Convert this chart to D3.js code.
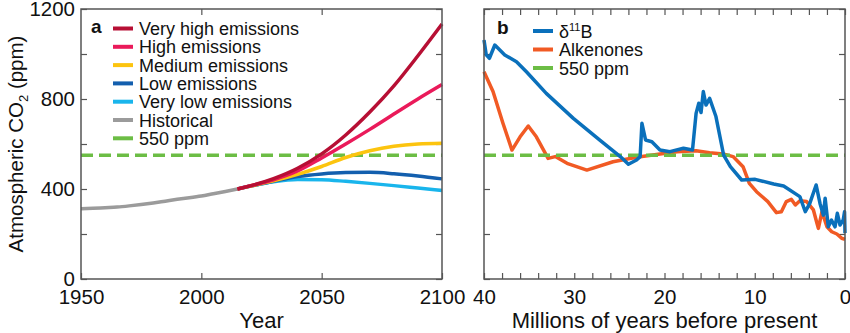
<!DOCTYPE html>
<html>
<head>
<meta charset="utf-8">
<script src="https://cdn.jsdelivr.net/npm/d3@7"></script>
<style>
  body { margin: 0; background: #fff; }
  svg text { font-family: "Liberation Sans", Arial, sans-serif; fill: #111; }
</style>
</head>
<body>
<div id="chart"></div>
<script>
// panel a: CO2 scenarios (ppm)
var histYears = [1950, 1955, 1960, 1965, 1970, 1975, 1980, 1985, 1990, 1995, 2000, 2005, 2010, 2015];
var histVals  = [312, 314, 317, 320, 325, 331, 338, 346, 354, 361, 369, 379, 389, 400];

var scenYears = [2015, 2020, 2030, 2040, 2050, 2060, 2070, 2080, 2090, 2100];
var veryHigh  = [400, 413, 446, 492, 556, 640, 742, 858, 992, 1133];
var high      = [400, 413, 441, 480, 538, 600, 665, 733, 800, 864];
var medium    = [400, 412, 436, 465, 500, 540, 570, 590, 600, 603];
var low       = [400, 412, 434, 455, 467, 473, 474, 468, 458, 445];
var veryLow   = [400, 412, 432, 442, 441, 434, 425, 415, 404, 393];

var scenNames  = ["Very high emissions", "High emissions", "Medium emissions", "Low emissions", "Very low emissions", "Historical", "550 ppm"];
var scenColors = ["#b70f34", "#ea1a5a", "#fcc40f", "#135fae", "#19b5ec", "#9b9b9b", "#6cbd45"];

// panel b: proxy records (Myr before present, ppm)
var boronAge = [40, 39.75, 39.4, 38.8, 37.7, 36.4, 35.3, 33.1, 30.1, 27.2, 24.9, 24.0, 23.1, 22.7, 22.5, 22.1, 21.4, 20.5, 19.4, 17.9, 16.9,
                16.5, 16.2, 15.95, 15.7, 15.4, 15.0, 14.3, 13.45, 12.7, 11.45, 9.95, 7.9, 6.8, 5.0, 4.4, 3.9, 3.2, 2.77, 2.4, 2.2, 1.85,
                1.5, 1.1, 0.85, 0.55, 0.2, 0.05, 0];
var boronCO2 = [1062, 996, 981, 1040, 996, 966, 921, 825, 714, 618, 544, 510, 529, 544, 692, 618, 610, 573, 566, 581, 573,
                736, 781, 740, 833, 773, 803, 722, 551, 499, 440, 443, 422, 413, 366, 299, 336, 418, 336, 284, 359, 232,
                262, 232, 292, 240, 262, 299, 204];

var alkAge = [40, 39.0, 37.9, 36.9, 36.0, 35.1, 34.2, 32.9, 32.1, 30.8, 28.6, 25.7, 23.1, 20.5, 18.6, 16.5, 15.0, 13.5, 12.4, 11.3,
              10.6, 9.8, 8.55, 7.6, 7.05, 6.5, 5.95, 5.5, 5.0, 4.25, 3.5, 3.1, 2.95, 2.55, 2.0, 1.47, 0.9, 0.37, 0];
var alkCO2 = [921, 833, 692, 573, 632, 680, 632, 536, 544, 514, 484, 521, 541, 556, 566, 570, 561, 556, 544, 499,
              425, 388, 344, 295, 299, 344, 354, 329, 348, 344, 307, 247, 225, 299, 232, 210, 200, 181, 176];

var proxyNames  = ["\u03b4", "Alkenones", "550 ppm"];
var proxyColors = ["#0a70bb", "#f15a24", "#6cbd45"];

var yTicks = [0, 200, 400, 600, 800, 1000, 1200];
var yLabels = [0, 400, 800, 1200];
var threshold = 550;

var width = 850, height = 333;
var svg = d3.select("#chart").append("svg")
  .attr("width", width)
  .attr("height", height);

var plotTop = 9, plotBottom = 279;
var y = d3.scaleLinear().domain([0, 1200]).range([plotBottom, plotTop]);
var xa = d3.scaleLinear().domain([1950, 2100]).range([81, 442]);
var xb = d3.scaleLinear().domain([40, 0]).range([484, 845]);

var axisColor = "#555";

function styleAxis(g) {
  g.select(".domain").remove();
  g.selectAll(".tick line").attr("stroke", axisColor).attr("stroke-width", 1.2);
  g.selectAll(".tick text").attr("font-size", 20.5).attr("fill", "#111")
    .attr("font-family", "'Liberation Sans', Arial, sans-serif");
}

function frame(x0, x1) {
  svg.append("rect")
    .attr("x", x0).attr("y", plotTop)
    .attr("width", x1 - x0).attr("height", plotBottom - plotTop)
    .attr("fill", "none").attr("stroke", axisColor).attr("stroke-width", 1.5);
}

// ---- panel a ----
svg.append("g").attr("transform", "translate(81,0)")
  .call(d3.axisLeft(y).tickValues(yTicks).tickSizeInner(-6).tickSizeOuter(0).tickPadding(6)
    .tickFormat(function(d) { return yLabels.indexOf(d) >= 0 ? d : ""; }))
  .call(styleAxis);
svg.append("g").attr("transform", "translate(442,0)")
  .call(d3.axisRight(y).tickValues(yTicks).tickSizeInner(-6).tickSizeOuter(0).tickFormat(""))
  .call(styleAxis);
svg.append("g").attr("transform", "translate(0," + plotBottom + ")")
  .call(d3.axisBottom(xa).tickValues([1950, 2000, 2050, 2100]).tickSizeInner(-6).tickSizeOuter(0).tickPadding(10)
    .tickFormat(d3.format("d")))
  .call(styleAxis);
svg.append("g").attr("transform", "translate(0," + plotTop + ")")
  .call(d3.axisTop(xa).tickValues([2000, 2050]).tickSizeInner(-6).tickSizeOuter(0).tickFormat(""))
  .call(styleAxis);

var lineA = d3.line().curve(d3.curveMonotoneX)
  .x(function(d) { return xa(d[0]); })
  .y(function(d) { return y(d[1]); });

var gA = svg.append("g");
gA.append("line")
  .attr("x1", xa(1950)).attr("x2", xa(2100))
  .attr("y1", y(threshold)).attr("y2", y(threshold))
  .attr("stroke", scenColors[6]).attr("stroke-width", 3.5).attr("stroke-dasharray", "12,6");

gA.append("path")
  .attr("d", lineA(d3.zip(histYears, histVals)))
  .attr("fill", "none").attr("stroke", scenColors[5]).attr("stroke-width", 3.5);

var scenSeries = [veryLow, low, medium, high, veryHigh];
var scenColorOrder = [scenColors[4], scenColors[3], scenColors[2], scenColors[1], scenColors[0]];
scenSeries.forEach(function(s, i) {
  gA.append("path")
    .attr("d", lineA(d3.zip(scenYears, s)))
    .attr("fill", "none").attr("stroke", scenColorOrder[i]).attr("stroke-width", 3.5);
});

frame(81, 442);

svg.append("text").attr("x", 91).attr("y", 33)
  .attr("font-size", 19).attr("font-weight", "bold").text("a");

var legA = svg.append("g").attr("transform", "translate(113,28.5)");
scenNames.forEach(function(n, i) {
  var row = legA.append("g").attr("transform", "translate(0," + (i * 18.3) + ")");
  row.append("line").attr("x1", 0).attr("x2", 20).attr("y1", 0).attr("y2", 0)
    .attr("stroke", scenColors[i]).attr("stroke-width", 4);
  row.append("text").attr("x", 26).attr("y", 6.5).attr("font-size", 18).text(n);
});

// axis titles a
var yt = svg.append("text")
  .attr("transform", "translate(23,144) rotate(-90)")
  .attr("text-anchor", "middle")
  .attr("font-size", 20.5);
yt.append("tspan").text("Atmospheric CO");
yt.append("tspan").attr("font-size", 13).attr("dy", 5).text("2");
yt.append("tspan").attr("dy", -5).text(" (ppm)");

svg.append("text").attr("x", xa(2025)).attr("y", 328)
  .attr("text-anchor", "middle").attr("font-size", 22).text("Year");

// ---- panel b ----
svg.append("g").attr("transform", "translate(484,0)")
  .call(d3.axisLeft(y).tickValues(yTicks).tickSizeInner(-6).tickSizeOuter(0).tickFormat(""))
  .call(styleAxis);
svg.append("g").attr("transform", "translate(845,0)")
  .call(d3.axisRight(y).tickValues(yTicks).tickSizeInner(-6).tickSizeOuter(0).tickFormat(""))
  .call(styleAxis);

var bTicks = d3.range(0, 41, 2);
svg.append("g").attr("transform", "translate(0," + plotBottom + ")")
  .call(d3.axisBottom(xb).tickValues(bTicks).tickSizeInner(-6).tickSizeOuter(0).tickPadding(10)
    .tickFormat(function(d) { return d % 10 === 0 ? d : ""; }))
  .call(styleAxis);
svg.append("g").attr("transform", "translate(0," + plotTop + ")")
  .call(d3.axisTop(xb).tickValues(bTicks).tickSizeInner(-6).tickSizeOuter(0).tickFormat(""))
  .call(styleAxis);

var lineB = d3.line()
  .x(function(d) { return xb(d[0]); })
  .y(function(d) { return y(d[1]); });

var gB = svg.append("g");
gB.append("path")
  .attr("d", lineB(d3.zip(alkAge, alkCO2)))
  .attr("fill", "none").attr("stroke", proxyColors[1]).attr("stroke-width", 3.5)
  .attr("stroke-linejoin", "round");
gB.append("line")
  .attr("x1", xb(40)).attr("x2", xb(0))
  .attr("y1", y(threshold)).attr("y2", y(threshold))
  .attr("stroke", proxyColors[2]).attr("stroke-width", 3.5).attr("stroke-dasharray", "12,6");
gB.append("path")
  .attr("d", lineB(d3.zip(boronAge, boronCO2)))
  .attr("fill", "none").attr("stroke", proxyColors[0]).attr("stroke-width", 3.5)
  .attr("stroke-linejoin", "round");

frame(484, 845);

svg.append("text").attr("x", 497).attr("y", 34)
  .attr("font-size", 19).attr("font-weight", "bold").text("b");

var legB = svg.append("g").attr("transform", "translate(533,31)");
proxyNames.forEach(function(n, i) {
  var row = legB.append("g").attr("transform", "translate(0," + (i * 18.5) + ")");
  row.append("line").attr("x1", 0).attr("x2", 20).attr("y1", 0).attr("y2", 0)
    .attr("stroke", proxyColors[i]).attr("stroke-width", 4);
  var t = row.append("text").attr("x", 26).attr("y", 6.5).attr("font-size", 18).text(n);
  if (i === 0) {
    t.append("tspan").attr("font-size", 11).attr("dy", -7).text("11");
    t.append("tspan").attr("dy", 7).text("B");
  }
});

svg.append("text").attr("x", xb(20)).attr("y", 328)
  .attr("text-anchor", "middle").attr("font-size", 22).text("Millions of years before present");
</script>
</body>
</html>
